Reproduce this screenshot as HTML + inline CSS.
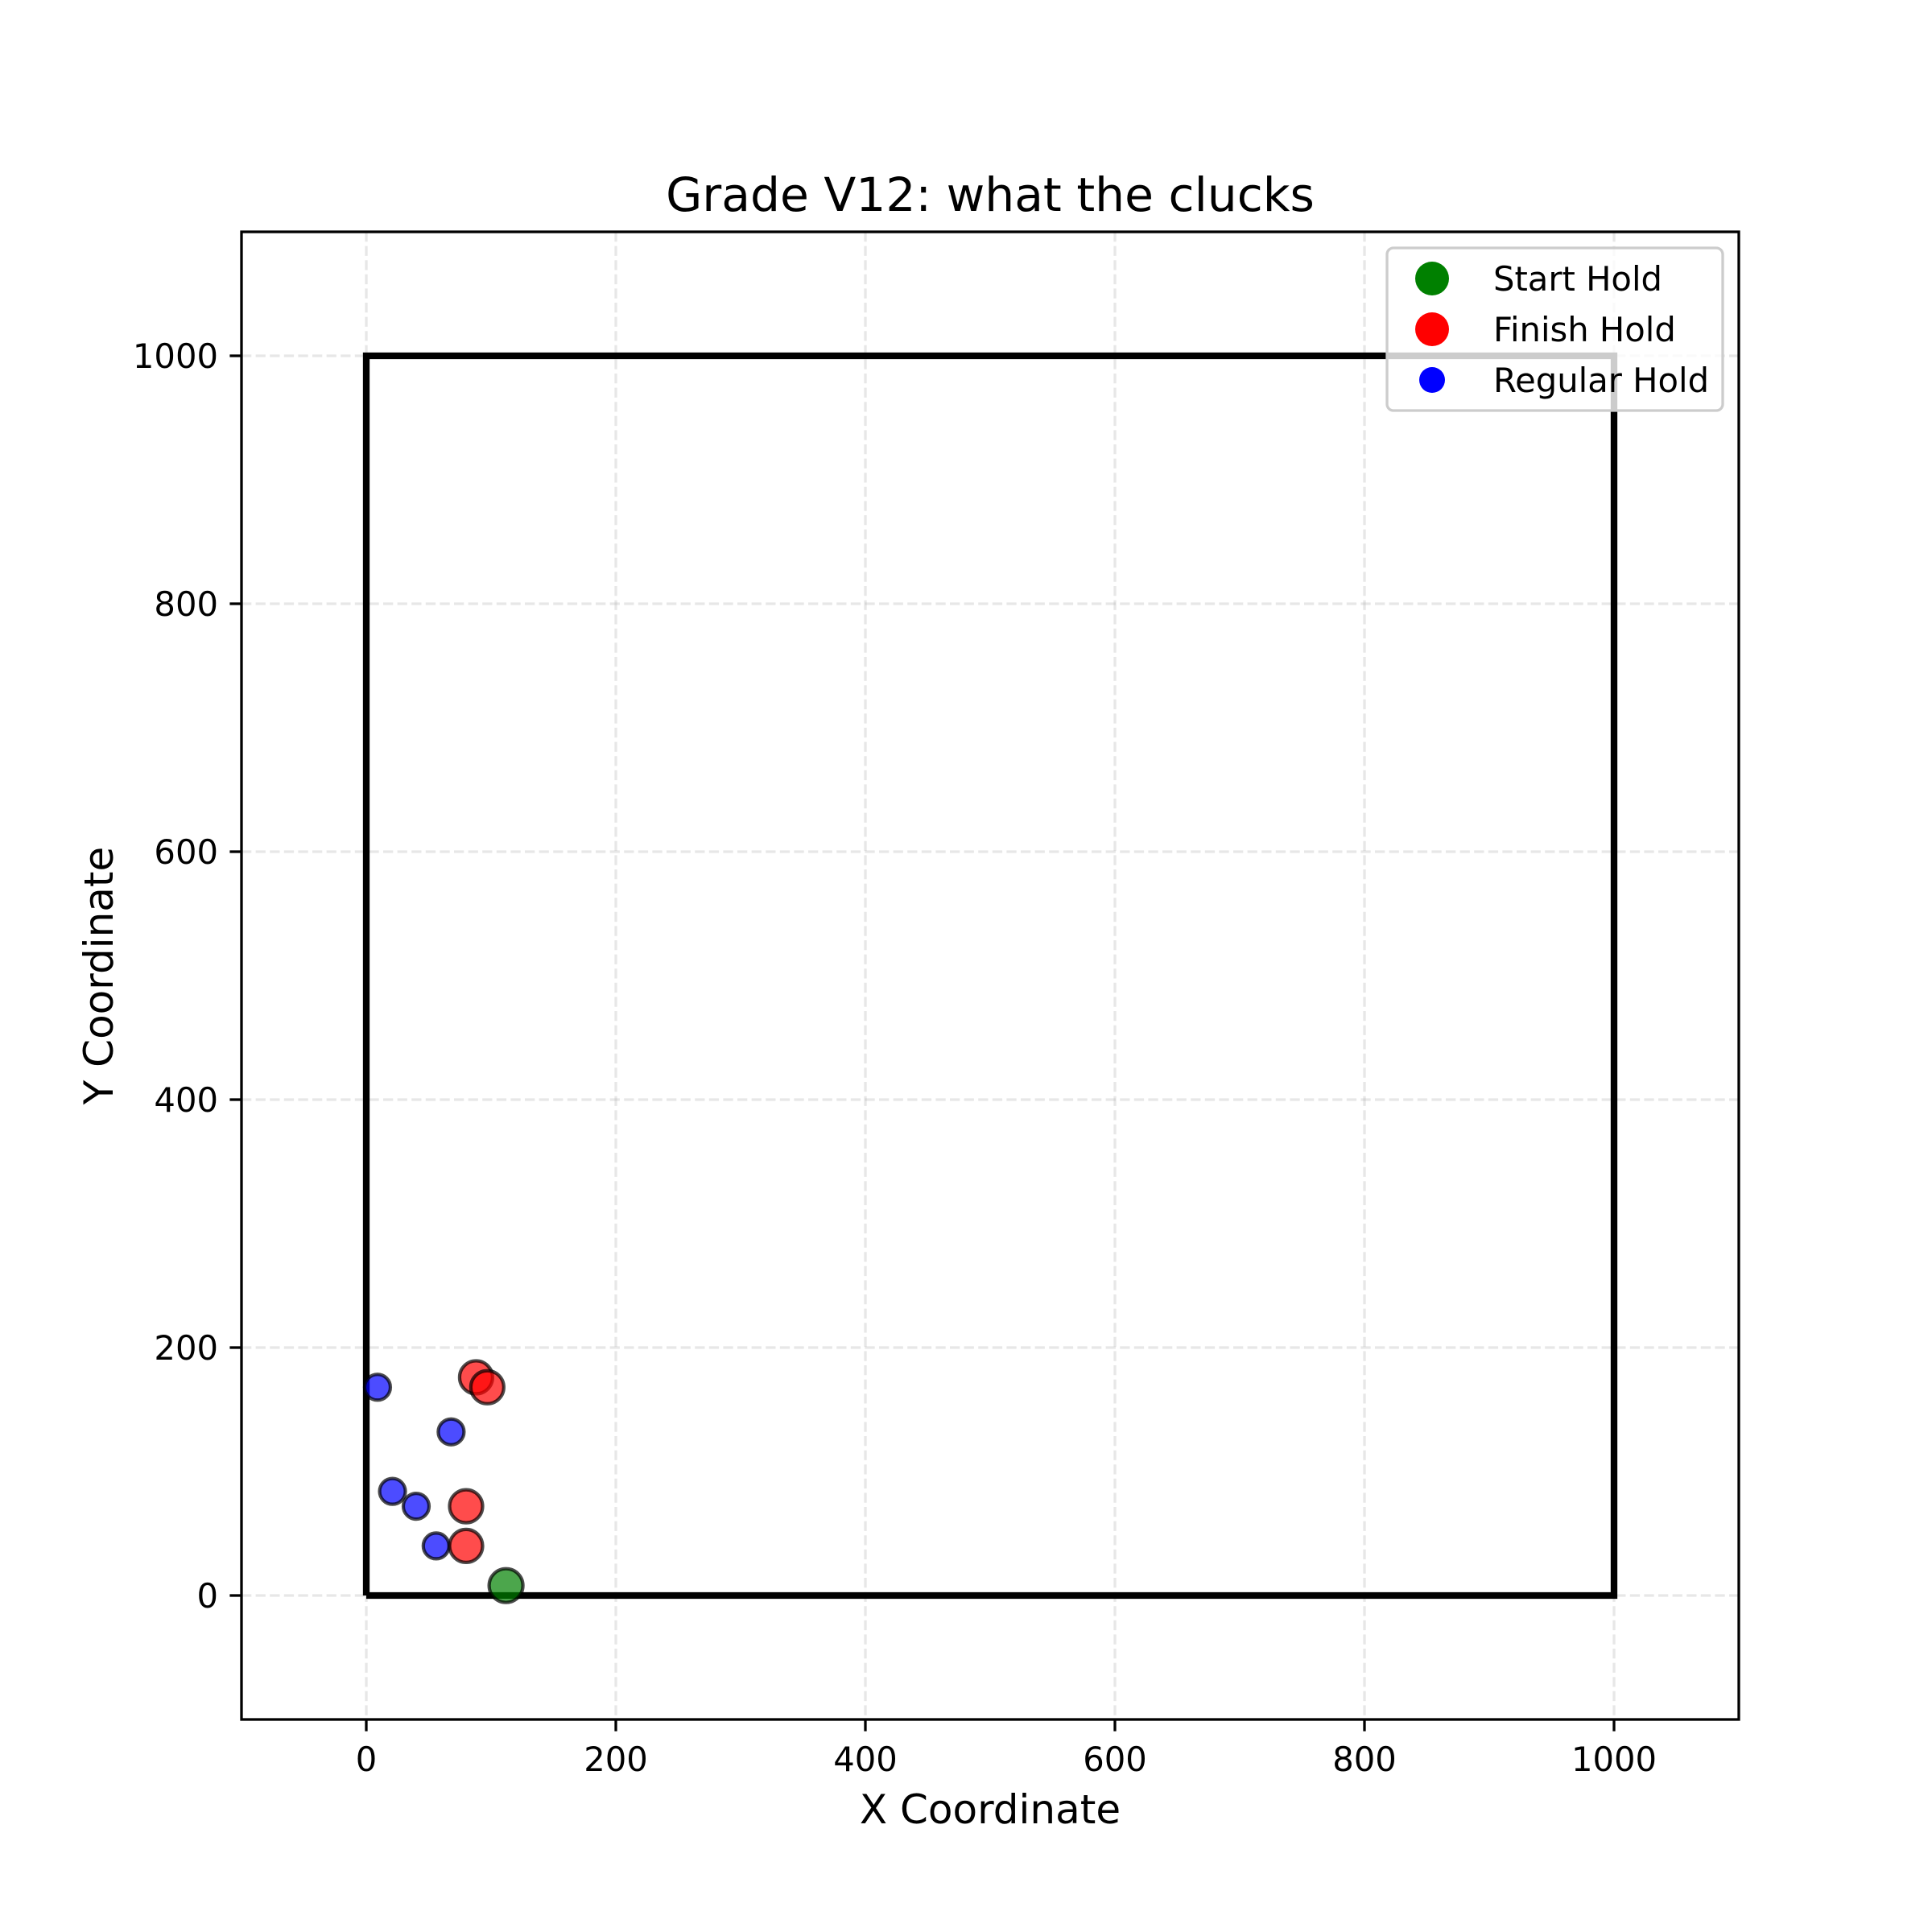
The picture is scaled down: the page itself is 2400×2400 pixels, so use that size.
<!DOCTYPE html>
<html><head><meta charset="utf-8"><style>
html,body{margin:0;padding:0;background:#fff}
svg{display:block;font-family:"DejaVu Sans","Liberation Sans",sans-serif}
</style></head><body>
<svg id="chart" width="2400" height="2400" viewBox="0 0 2400 2400" xmlns="http://www.w3.org/2000/svg">
<rect width="2400" height="2400" fill="#fff"/>
<g id="grid"></g>
<g id="plot"></g>
<g id="axes"></g>
<text x="1230" y="262" font-size="58.3" text-anchor="middle">Grade V12: what the clucks</text>
<text x="1230" y="2265" font-size="50" text-anchor="middle">X Coordinate</text>
<text x="140" y="1212" font-size="50" text-anchor="middle" transform="rotate(-90 140 1212)">Y Coordinate</text>
<g id="legend"></g>
</svg>
<script>
const xTicks = [0, 200, 400, 600, 800, 1000];
const yTicks = [0, 200, 400, 600, 800, 1000];
const wallX = [0, 1000, 1000, 0, 0];
const wallY = [0, 0, 1000, 1000, 0];
const startX = [112];
const startY = [8];
const finishX = [88, 97, 80, 80];
const finishY = [176, 168, 72, 40];
const regularX = [9, 68, 21, 40, 56];
const regularY = [168, 132, 84, 72, 40];

const L = 300, R = 2160, T = 288, B = 2136;
const xmin = -100, xmax = 1100, ymin = -100, ymax = 1100;
const sx = v => L + (v - xmin) / (xmax - xmin) * (R - L);
const sy = v => B - (v - ymin) / (ymax - ymin) * (B - T);
const NS = "http://www.w3.org/2000/svg";
function mk(tag, attrs, parent) {
  const e = document.createElementNS(NS, tag);
  for (const k in attrs) e.setAttribute(k, attrs[k]);
  parent.appendChild(e);
  return e;
}
const grid = document.getElementById('grid');
const plot = document.getElementById('plot');
const axes = document.getElementById('axes');
const legend = document.getElementById('legend');

xTicks.forEach(t => {
  const g = mk('line', {x1: sx(t), x2: sx(t), y1: T, y2: B, stroke: '#b0b0b0', 'stroke-opacity': 0.3, 'stroke-width': 3.3, 'stroke-dasharray': '12.3 5.3'}, grid);
  
  
  const tk = mk('line', {x1: sx(t), x2: sx(t), y1: B, y2: B + 14.6, stroke: '#000', 'stroke-width': 3.3}, axes);
  
  
  const lb = mk('text', {x: sx(t), y: B + 64, 'font-size': 41.7, 'text-anchor': 'middle'}, axes);
  
  
  lb.textContent = t;
});
yTicks.forEach(t => {
  const g = mk('line', {x1: L, x2: R, y1: sy(t), y2: sy(t), stroke: '#b0b0b0', 'stroke-opacity': 0.3, 'stroke-width': 3.3, 'stroke-dasharray': '12.3 5.3'}, grid);
  
  
  const tk = mk('line', {x1: L - 14.6, x2: L, y1: sy(t), y2: sy(t), stroke: '#000', 'stroke-width': 3.3}, axes);
  
  
  const lb = mk('text', {x: L - 29, y: sy(t) + 15, 'font-size': 41.7, 'text-anchor': 'end'}, axes);
  
  
  lb.textContent = t;
});

const wall = mk('polyline', {points: wallX.map((v, i) => sx(v) + ',' + sy(wallY[i])).join(' '), fill: 'none', stroke: '#000', 'stroke-width': 8.3, 'stroke-linejoin': 'miter'}, plot);



function pts(xs, ys, color, r, name) {
  xs.forEach((v, i) => {
    const c = mk('circle', {cx: sx(v), cy: sy(ys[i]), r: r, fill: color, 'fill-opacity': 0.7, stroke: '#000', 'stroke-opacity': 0.7, 'stroke-width': 4.2}, plot);
    
    
  });
}
pts(regularX, regularY, '#0000ff', 16, 'regular-hold');
pts(finishX, finishY, '#ff0000', 20.5, 'finish-hold');
pts(startX, startY, '#008000', 21, 'start-hold');

const frame = mk('rect', {x: L, y: T, width: R - L, height: B - T, fill: 'none', stroke: '#000', 'stroke-width': 3.3}, axes);



const lb = mk('rect', {x: 1723, y: 308, width: 417, height: 202, rx: 8, fill: '#fff', 'fill-opacity': 0.8, stroke: '#cccccc', 'stroke-width': 3.3}, legend);


const legItems = [['Start Hold', '#008000', 21], ['Finish Hold', '#ff0000', 21], ['Regular Hold', '#0000ff', 16]];
legItems.forEach((it, i) => {
  const y = 346 + i * 63;
  const c = mk('circle', {cx: 1779, cy: y, r: it[2], fill: it[1]}, legend);
  
  
  const t = mk('text', {x: 1855, y: y + 15, 'font-size': 41.7}, legend);
  
  
  t.textContent = it[0];
});
</script>
</body></html>
